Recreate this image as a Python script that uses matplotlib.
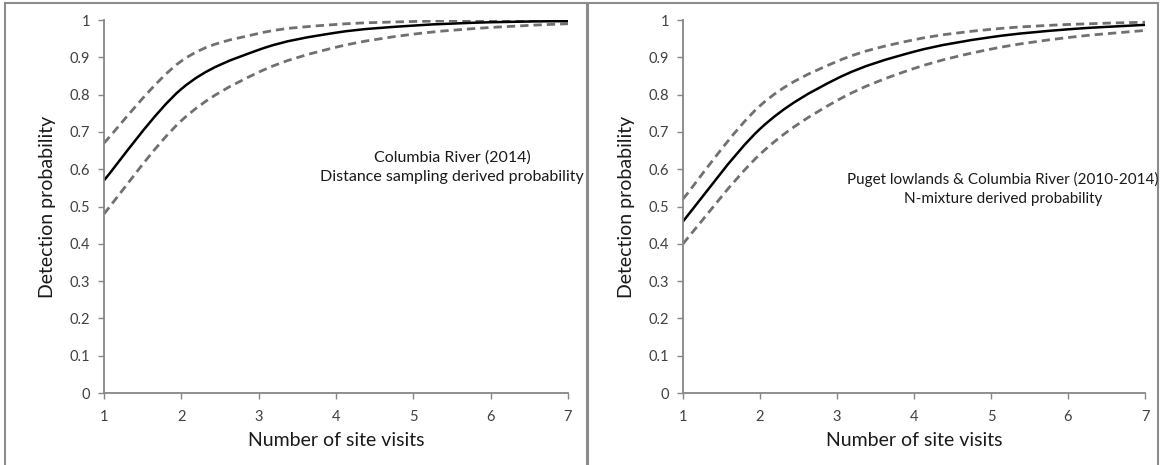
import matplotlib
matplotlib.use("Agg")
import matplotlib.pyplot as plt
from matplotlib.path import Path
from matplotlib.patches import PathPatch, Rectangle

plt.rcParams['font.family'] = ['Lato', 'DejaVu Sans']

# number of site visits
visits = [1, 2, 3, 4, 5, 6, 7]

# Columbia River (2014), distance sampling
cr_mean = [0.57, 0.815, 0.92, 0.966, 0.985, 0.994, 0.997]
cr_upper = [0.67, 0.89, 0.964, 0.988, 0.996, 0.999, 1.0]
cr_lower = [0.48, 0.73, 0.86, 0.927, 0.962, 0.98, 0.99]

# Puget lowlands & Columbia River (2010-2014), N-mixture
pl_mean = [0.46, 0.708, 0.843, 0.915, 0.954, 0.975, 0.987]
pl_upper = [0.52, 0.77, 0.889, 0.947, 0.975, 0.988, 0.994]
pl_lower = [0.40, 0.64, 0.784, 0.870, 0.922, 0.953, 0.972]

yticks = [0, 0.1, 0.2, 0.3, 0.4, 0.5, 0.6, 0.7, 0.8, 0.9, 1]

W, H = 1160, 465
fig = plt.figure(figsize=(W / 100, H / 100), dpi=100)

AXIS_GRAY = '#868686'
TEXT_GRAY = '#404040'


def smooth_line(ax, xs, ys, **kw):
    # excel style smoothed line: bezier through the points
    n = len(xs)
    pts = list(zip(xs, ys))
    verts = [pts[0]]
    codes = [Path.MOVETO]
    for i in range(n - 1):
        p0 = pts[i - 1] if i > 0 else pts[i]
        p1 = pts[i]
        p2 = pts[i + 1]
        p3 = pts[i + 2] if i + 2 < n else pts[i + 1]
        c1 = (p1[0] + (p2[0] - p0[0]) / 6, p1[1] + (p2[1] - p0[1]) / 6)
        c2 = (p2[0] - (p3[0] - p1[0]) / 6, p2[1] - (p3[1] - p1[1]) / 6)
        verts += [c1, c2, p2]
        codes += [Path.CURVE4] * 3
    patch = PathPatch(Path(verts, codes), fill=False, transform=ax.transData,
                      capstyle='butt', joinstyle='round', **kw)
    ax.add_patch(patch)


def make_panel(left_px, right_px, mean, upper, lower, label1, label2, tx, ty, fs):
    top_px, bot_px = 20, 393
    ax = fig.add_axes([left_px / W, 1 - bot_px / H,
                       (right_px - left_px) / W, (bot_px - top_px) / H])
    ax.set_xlim(1, 7)
    ax.set_ylim(0, 1)
    for s in ['top', 'right']:
        ax.spines[s].set_visible(False)
    for s in ['left', 'bottom']:
        ax.spines[s].set_color(AXIS_GRAY)
        ax.spines[s].set_linewidth(1.3)
    ax.set_xticks(visits)
    ax.set_yticks(yticks)
    ax.set_yticklabels(['%g' % v for v in yticks])
    ax.tick_params(axis='both', direction='out', length=4, width=1,
                   color=AXIS_GRAY, labelcolor=TEXT_GRAY, labelsize=10.5, pad=6)
    ax.tick_params(axis='x', pad=8)
    ax.set_xlabel('Number of site visits', fontsize=14, color='#1a1a1a', labelpad=6)
    ax.set_ylabel('Detection probability', fontsize=14, color='#1a1a1a', labelpad=10)

    smooth_line(ax, visits, upper, edgecolor='#707070', linewidth=2.0,
                linestyle=(0, (3.0, 1.8)))
    smooth_line(ax, visits, lower, edgecolor='#707070', linewidth=2.0,
                linestyle=(0, (3.0, 1.8)))
    smooth_line(ax, visits, mean, edgecolor='black', linewidth=1.8)

    fig.text(tx / W, 1 - ty / H, label1 + '\n' + label2, ha='center', va='center',
             fontsize=fs, color='#1a1a1a', linespacing=1.5)
    return ax


make_panel(104, 568, cr_mean, cr_upper, cr_lower,
           'Columbia River (2014)', 'Distance sampling derived probability', 452, 167, 11.5)
make_panel(683, 1145, pl_mean, pl_upper, pl_lower,
           'Puget lowlands & Columbia River (2010-2014)', 'N-mixture derived probability',
           1003, 189, 11)

# panel frames
fig.patches.append(Rectangle((5 / W, -0.05), 582 / W, 1.05 - 3 / H, transform=fig.transFigure,
                             fill=False, edgecolor='#8c8c8c', linewidth=1.5))
fig.patches.append(Rectangle((588 / W, -0.05), 570 / W, 1.05 - 3 / H, transform=fig.transFigure,
                             fill=False, edgecolor='#8c8c8c', linewidth=1.5))

fig.savefig('out.png', dpi=100)
